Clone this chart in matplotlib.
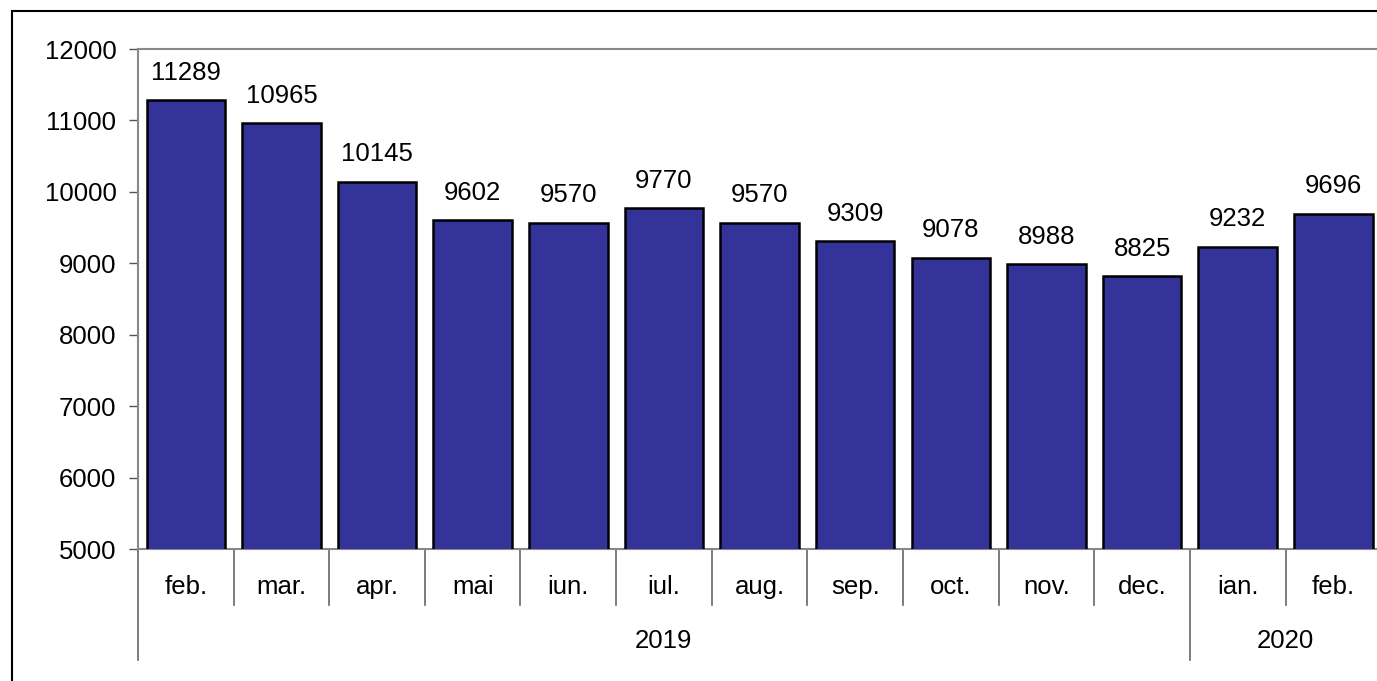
import matplotlib
matplotlib.use("Agg")
import matplotlib.pyplot as plt
from matplotlib.patches import Rectangle
from matplotlib.lines import Line2D

months = ["feb.", "mar.", "apr.", "mai", "iun.", "iul.", "aug.", "sep.", "oct.", "nov.", "dec.", "ian.", "feb."]
values = [11289, 10965, 10145, 9602, 9570, 9770, 9570, 9309, 9078, 8988, 8825, 9232, 9696]
years = ["2019", "2020"]
year_counts = [11, 2]
yticks = [5000, 6000, 7000, 8000, 9000, 10000, 11000, 12000]

plt.rcParams['font.family'] = ['Liberation Sans', 'DejaVu Sans']
FS = 18.5

fig = plt.figure(figsize=(13.77, 6.81), dpi=100)
ax = fig.add_axes([0.1002, 0.1938, 0.9028, 0.7342])

x = list(range(len(values)))
bars = ax.bar(x, values, width=0.82, color="#333399", edgecolor="black", linewidth=1.8, zorder=3)
for xi, v in zip(x, values):
    ax.annotate(f"{v}", (xi, v), xytext=(0, 11), textcoords="offset points",
                ha="center", va="bottom", fontsize=FS)

ax.set_xlim(-0.5, len(values) - 0.5)
ax.set_ylim(5000, 12000)
ax.set_yticks(yticks)
ax.set_yticklabels([str(t) for t in yticks], fontsize=FS)
ax.tick_params(axis="y", direction="out", length=6.5, width=1, color="#555555", pad=9)
ax.set_xticks([])
for s in ["left", "bottom", "top"]:
    ax.spines[s].set_color("#888888")
    ax.spines[s].set_linewidth(1.5)
ax.spines["right"].set_visible(False)

trans = ax.get_xaxis_transform()
fig_h = 681
def yfrac(px):
    ax_h = 0.7342 * fig_h
    return -px / ax_h

for xi, m in zip(x, months):
    ax.text(xi, yfrac(38), m, ha="center", va="center", fontsize=FS, transform=trans, clip_on=False)

pos = -0.5
bounds = [pos]
for c in year_counts:
    pos += c
    bounds.append(pos)
for i in range(len(values) + 1):
    xb = i - 0.5
    if xb in bounds:
        ax.add_line(Line2D([xb, xb], [0, yfrac(111)], transform=trans, color="#666666", lw=1.2, clip_on=False))
    else:
        ax.add_line(Line2D([xb, xb], [0, yfrac(56)], transform=trans, color="#666666", lw=1.2, clip_on=False))

for i, yl in enumerate(years):
    center = (bounds[i] + bounds[i + 1]) / 2
    ax.text(center, yfrac(92), yl, ha="center", va="center", fontsize=FS, transform=trans, clip_on=False)

fig.add_artist(Rectangle((12 / 1377, -0.1), 1.2, 1 - 11 / 681 + 0.1, transform=fig.transFigure,
                         fill=False, edgecolor="black", linewidth=1.5))

fig.savefig("out.png", dpi=100)
